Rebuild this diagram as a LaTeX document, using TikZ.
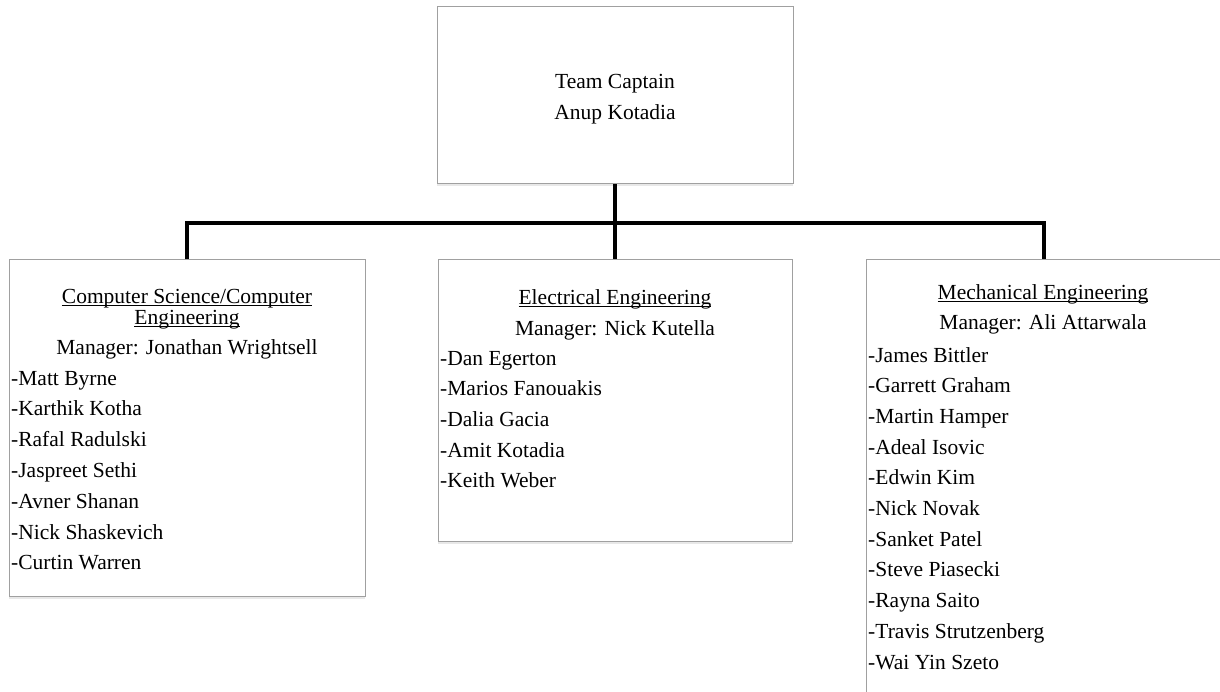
\documentclass[tikz,border=0pt]{standalone}
\usepackage{fontspec}
\setmainfont{Liberation Serif}
\usetikzlibrary{shadows}
\definecolor{boxgray}{RGB}{160,160,160}
\tikzset{
	teambox/.style={
		draw=boxgray,
		fill=white,
		line width=1pt,
		inner sep=0pt,
		drop shadow={opacity=0.18, shadow xshift=0pt, shadow yshift=-2.5pt}
	},
	link/.style={
		line width=4.8pt
	},
	heading/.style={
		anchor=base,
		inner sep=0pt
	},
	member/.style={
		anchor=base west,
		inner sep=0pt
	}
}
\newcommand{\headline}[1]{\underline{\smash{#1}}}

\begin{document}
\begin{tikzpicture}[x=1pt, y=-1pt, font=\fontsize{21.5}{26}\selectfont]
\useasboundingbox (0,0) rectangle (1220,692);
\clip (0,0) rectangle (1220,692);

\node[teambox, minimum width=356pt, minimum height=177pt] (captain) at (615, 95.5) {};
\node[teambox, minimum width=356pt, minimum height=336pt] (cs) at (187, 428) {};
\node[teambox, minimum width=354pt, minimum height=281pt] (ee) at (615, 400.5) {};
\node[teambox, minimum width=356pt, minimum height=470pt] (me) at (1044, 495) {};

\coordinate (busL) at (187, 223);
\coordinate (busR) at (1044, 223);
\draw[link] (captain.south) -- (ee.north);
\draw[link] (cs.north) -- (busL) -- (busR) -- (me.north);

\node[heading] (title) at (615, 89) {Team Captain};
\node[heading] (captainname) at (615, 120) {Anup Kotadia};

\node[heading] (cshead1) at (187, 304) {\headline{Computer Science/Computer}};
\node[heading] (cshead2) at (187, 325) {\headline{Engineering}};
\node[heading] (csmanager) at (187, 355) {Manager: Jonathan Wrightsell};
\foreach \who [count=\i] in {Matt Byrne, Karthik Kotha, Rafal Radulski, Jaspreet Sethi, Avner Shanan, Nick Shaskevich, Curtin Warren} {
	\node[member] (cs\i) at (11, {385+30.8*(\i-1)}) {-\who};
}

\node[heading] (eehead) at (615, 305) {\headline{Electrical Engineering}};
\node[heading] (eemanager) at (615, 335) {Manager: Nick Kutella};
\foreach \who [count=\i] in {Dan Egerton, Marios Fanouakis, Dalia Gacia, Amit Kotadia, Keith Weber} {
	\node[member] (ee\i) at (440, {365+30.7*(\i-1)}) {-\who};
}

\node[heading] (mehead) at (1043, 300) {\headline{Mechanical Engineering}};
\node[heading] (memanager) at (1043, 330) {Manager: Ali Attarwala};
\foreach \who [count=\i] in {James Bittler, Garrett Graham, Martin Hamper, Adeal Isovic, Edwin Kim, Nick Novak, Sanket Patel, Steve Piasecki, Rayna Saito, Travis Strutzenberg, Wai Yin Szeto} {
	\node[member] (me\i) at (868, {362+30.7*(\i-1)}) {-\who};
}
\end{tikzpicture}
\end{document}
